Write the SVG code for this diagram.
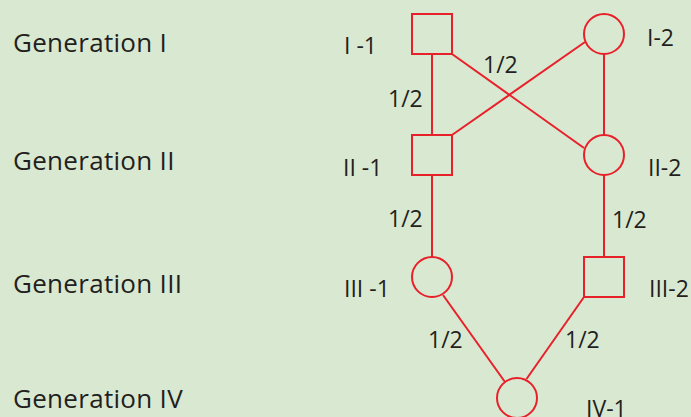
<svg xmlns="http://www.w3.org/2000/svg" width="691" height="417" viewBox="0 0 691 417">
  <style>
    .bg { fill: #d9e8d1; }
    .sym { fill: none; stroke: #e8202a; stroke-width: 2; }
    .link { stroke: #e8202a; stroke-width: 2; fill: none; }
    .gen { font-family: "Open Sans", "Noto Sans", sans-serif; font-size: 26px; letter-spacing: 0.3px; fill: #231f20; }
    .lbl { font-family: "Open Sans", "Noto Sans", sans-serif; font-size: 23px; fill: #231f20; }
  </style>
  <rect class="bg" x="0" y="0" width="691" height="417"/>

  <!-- generation row titles -->
  <g id="generation-titles">
    <text class="gen" x="13" y="52">Generation I</text>
    <text class="gen" x="13" y="170">Generation II</text>
    <text class="gen" x="13" y="293">Generation III</text>
    <text class="gen" x="13" y="408">Generation IV</text>
  </g>

  <!-- lines of descent -->
  <g id="connectors">
    <line class="link" x1="432" y1="54" x2="432" y2="135"/>
    <line class="link" x1="452" y1="54" x2="584" y2="148"/>
    <line class="link" x1="452" y1="135" x2="585" y2="42"/>
    <line class="link" x1="604" y1="54" x2="604" y2="135"/>
    <line class="link" x1="432" y1="175" x2="432" y2="257"/>
    <line class="link" x1="604" y1="175" x2="604" y2="257"/>
    <line class="link" x1="443" y1="295" x2="505" y2="382"/>
    <line class="link" x1="584" y1="297" x2="526.5" y2="379"/>
    <text class="lbl" x="388" y="107">1/2</text>
    <text class="lbl" x="483" y="73">1/2</text>
    <text class="lbl" x="388" y="227">1/2</text>
    <text class="lbl" x="612" y="228">1/2</text>
    <text class="lbl" x="428" y="348">1/2</text>
    <text class="lbl" x="565" y="348">1/2</text>
  </g>

  <!-- individuals -->
  <g id="I-1">
    <rect class="sym" x="412" y="14" width="40" height="40"/>
    <text class="lbl" x="344" y="54">I -1</text>
  </g>
  <g id="I-2">
    <circle class="sym" cx="604" cy="34" r="20"/>
    <text class="lbl" x="647" y="46">I-2</text>
  </g>
  <g id="II-1">
    <rect class="sym" x="412" y="135" width="40" height="40"/>
    <text class="lbl" x="343" y="176">II -1</text>
  </g>
  <g id="II-2">
    <circle class="sym" cx="604" cy="155" r="20"/>
    <text class="lbl" x="648" y="176">II-2</text>
  </g>
  <g id="III-1">
    <circle class="sym" cx="432" cy="277" r="20"/>
    <text class="lbl" x="344" y="297">III -1</text>
  </g>
  <g id="III-2">
    <rect class="sym" x="584" y="257" width="40" height="40"/>
    <text class="lbl" x="649" y="297">III-2</text>
  </g>
  <g id="IV-1">
    <circle class="sym" cx="517" cy="398" r="20"/>
    <text class="lbl" x="586" y="417">IV-1</text>
  </g>
</svg>
